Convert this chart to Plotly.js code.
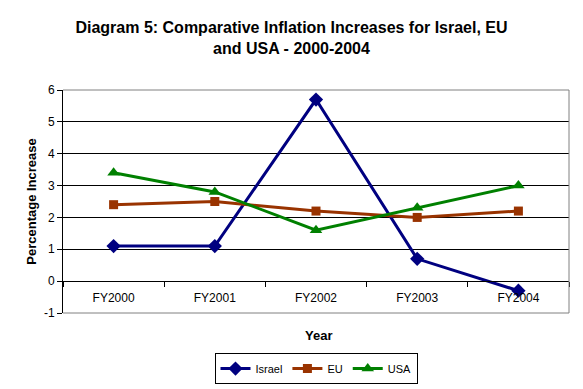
<!DOCTYPE html>
<html>
<head>
<meta charset="utf-8">
<script src="https://cdn.plot.ly/plotly-3.0.1.min.js"></script>
<style>html,body{margin:0;padding:0;background:#fff;}#chart{width:583px;height:389px;}</style>
</head>
<body>
<div id="chart"></div>
<script>
var years = ["FY2000", "FY2001", "FY2002", "FY2003", "FY2004"];
var israel = [1.1, 1.1, 5.7, 0.7, -0.3];
var eu = [2.4, 2.5, 2.2, 2.0, 2.2];
var usa = [3.4, 2.8, 1.6, 2.3, 3.0];
var yTicks = [-1, 0, 1, 2, 3, 4, 5, 6];
var yTickText = ["-1", "0", "1", "2", "3", "4", "5", "6"];

var font = "Liberation Sans, Arial, sans-serif";

var traces = [
  {x: years, y: israel, name: "Israel", type: "scatter", mode: "lines+markers",
   line: {color: "#000080", width: 3}, marker: {symbol: "diamond", size: 11, color: "#000080"}},
  {x: years, y: eu, name: "EU", type: "scatter", mode: "lines+markers",
   line: {color: "#993300", width: 3}, marker: {symbol: "square", size: 9, color: "#993300"}},
  {x: years, y: usa, name: "USA", type: "scatter", mode: "lines+markers",
   line: {color: "#008000", width: 3}, marker: {symbol: "triangle-up", size: 11, color: "#008000"}}
];

var layout = {
  width: 583, height: 389,
  margin: {l: 63, r: 14, t: 90, b: 76, autoexpand: false},
  paper_bgcolor: "#fff", plot_bgcolor: "#fff",
  font: {family: font, size: 12, color: "#000"},
  showlegend: true,
  title: {text: "<b>Diagram 5: Comparative Inflation Increases for Israel, EU<br>and USA - 2000-2004</b>",
          font: {family: font, size: 16, color: "#000"}, x: 0.5, xanchor: "center", y: 0.914, yanchor: "top"},
  xaxis: {type: "category", anchor: "free", position: 1/7, showline: true, linecolor: "#000", linewidth: 1,
          ticks: "outside", tickson: "boundaries", ticklen: 5, tickcolor: "#000", showgrid: false, zeroline: false,
          ticklabelstandoff: 5,
          tickfont: {family: font, size: 12}, range: [-0.5, 4.5], fixedrange: true},
  yaxis: {range: [-1, 6], tickvals: yTicks, ticktext: yTickText, showline: true, linecolor: "#000", linewidth: 1,
          ticks: "outside", ticklen: 5, tickcolor: "#000", showgrid: true, gridcolor: "#000", gridwidth: 1,
          zeroline: false, tickfont: {family: font, size: 12},
          title: {text: "<b>Percentage Increase</b>", font: {family: font, size: 13}, standoff: 4}},
  legend: {orientation: "h", x: 0.5, xanchor: "center", y: -0.249, yanchor: "middle",
           bgcolor: "#fff", bordercolor: "#000", borderwidth: 1, font: {family: font, size: 11},
           itemwidth: 30, tracegroupgap: 0},
  annotations: [{text: "<b>Year</b>", xref: "paper", yref: "paper", x: 0.504, y: -0.1, xanchor: "center", yanchor: "middle",
                 showarrow: false, font: {family: font, size: 13}}],
  shapes: [
    {type: "line", xref: "paper", yref: "paper", x0: 0, x1: 1, y0: 1, y1: 1, line: {color: "#808080", width: 1}, layer: "above"},
    {type: "line", xref: "paper", yref: "paper", x0: 1, x1: 1, y0: 0, y1: 1, line: {color: "#808080", width: 1}, layer: "above"},
    {type: "line", xref: "paper", yref: "paper", x0: 0, x1: 1, y0: 0, y1: 0, line: {color: "#808080", width: 1}, layer: "above"}
  ]
};

Plotly.newPlot("chart", traces, layout, {displayModeBar: false, staticPlot: true});
</script>
</body>
</html>
